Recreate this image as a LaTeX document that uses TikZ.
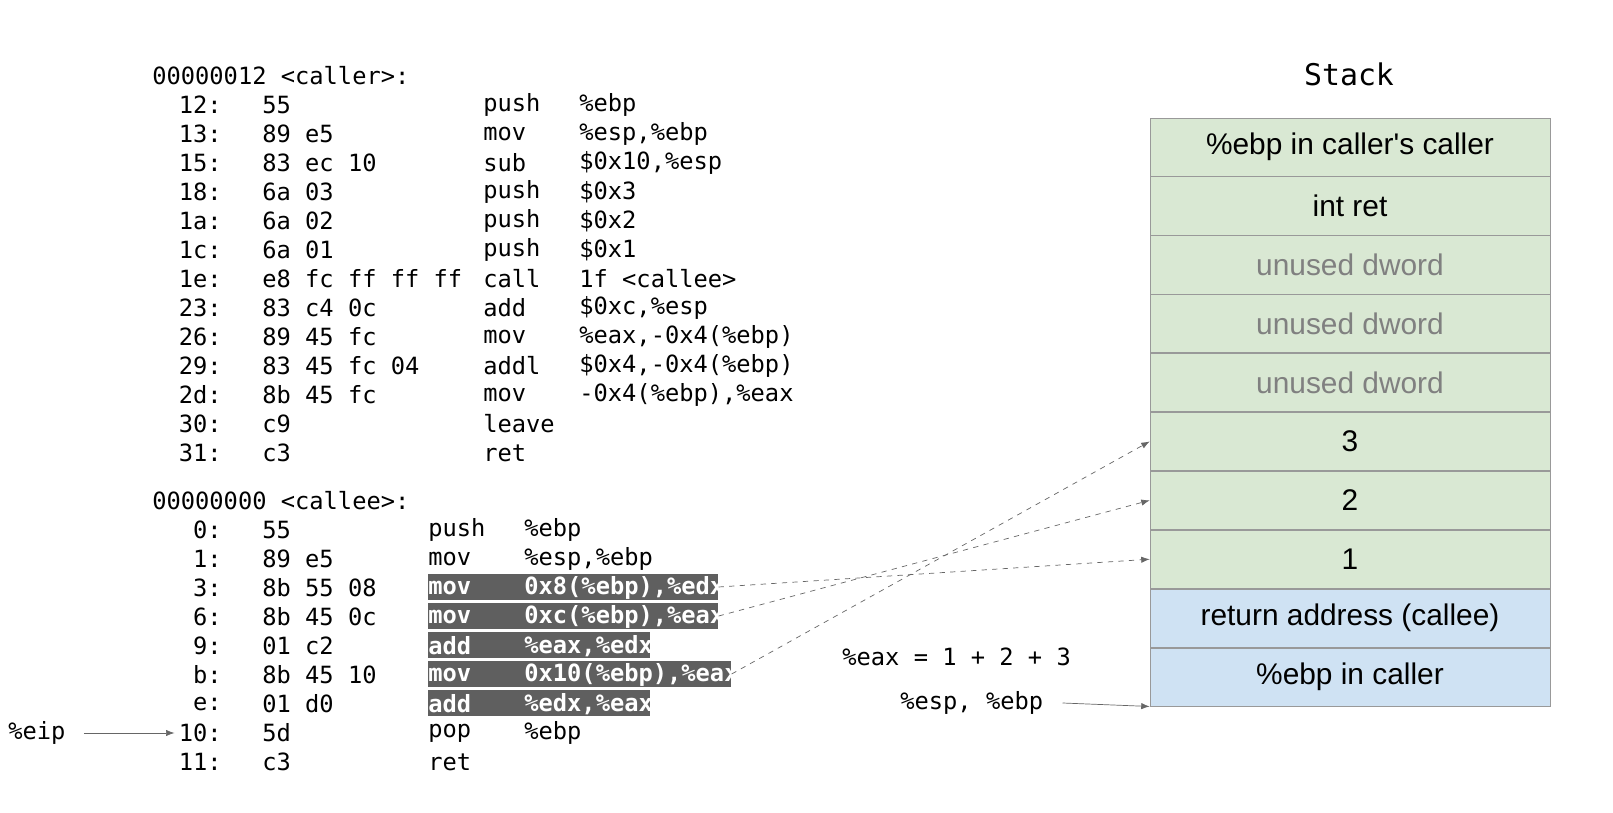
\documentclass[tikz,border=0pt]{standalone}
\usepackage{fontspec}
\setmainfont{Liberation Sans}
\setmonofont{DejaVu Sans Mono}
\usetikzlibrary{arrows.meta,
                positioning}
\definecolor{stackgreen}{HTML}{D9E8D3}
\definecolor{stackblue}{HTML}{CFE2F3}
\definecolor{hlgray}{HTML}{5F5F5F}
\definecolor{linegray}{HTML}{666666}

\begin{document}
\begin{tikzpicture}[x=0.02cm, y=-0.02cm]
    \tikzset
    {
        code/.style = {font = \ttfamily\fontsize{13.5}{15}\selectfont,
                       inner sep = 0pt,
                       anchor = west},
        addr/.style = {code,
                       anchor = east},
        hl/.style = {fill = hlgray,
                     inner sep = 0pt,
                     minimum height = 0.52cm,
                     anchor = west},
        hltext/.style = {code,
                         text = white,
                         font = \ttfamily\bfseries\fontsize{13.5}{15}\selectfont},
        cell/.style = {draw = gray!80,
                       minimum width = 8cm,
                       minimum height = 1.164cm,
                       inner sep = 0pt,
                       font = \fontsize{17}{20}\selectfont},
        used/.style = {cell, fill = stackgreen},
        unused/.style = {cell, fill = stackgreen, text = gray},
        frame/.style = {cell, fill = stackblue},
        dashedarrow/.style = {draw = linegray, dashed, -Latex},
        solidarrow/.style = {draw = linegray, -Latex}
    };
    \useasboundingbox (0,0) rectangle (1613,813);

    % caller
    \node[code] (caller) at (152,76) {00000012 <caller>:};
    \foreach \ad/\by/\mn/\op [count=\n] in
        {12:/55/push/\%ebp,
         13:/89 e5/mov/{\%esp,\%ebp},
         15:/83 ec 10/sub/{\$0x10,\%esp},
         18:/6a 03/push/\$0x3,
         1a:/6a 02/push/\$0x2,
         1c:/6a 01/push/\$0x1,
         1e:/e8 fc ff ff ff/call/1f <callee>,
         23:/83 c4 0c/add/{\$0xc,\%esp},
         26:/89 45 fc/mov/{\%eax,-0x4(\%ebp)},
         29:/83 45 fc 04/addl/{\$0x4,-0x4(\%ebp)},
         2d:/8b 45 fc/mov/{-0x4(\%ebp),\%eax},
         30:/c9/leave/{},
         31:/c3/ret/{}}
    {
        \node[addr] (ca-\n) at (222,76+29*\n) {\ad};
        \node[code] (cb-\n) at (262,76+29*\n) {\by};
        \node[code] (cm-\n) at (483,76+29*\n) {\mn};
        \node[code] (co-\n) at (579,76+29*\n) {\op};
    }

    % callee, highlighted rows first
    \node[hl, minimum width = 5.8cm] (h3) at (428,587) {};
    \node[hl, minimum width = 5.8cm] (h6) at (428,616) {};
    \node[hl, minimum width = 4.44cm] (h9) at (428,645) {};
    \node[hl, minimum width = 6.06cm] (hb) at (428,674) {};
    \node[hl, minimum width = 4.44cm] (he) at (428,703) {};

    \node[code] (callee) at (152,501) {00000000 <callee>:};
    \foreach \ad/\by/\mn/\op/\st [count=\n] in
        {0:/55/push/\%ebp/code,
         1:/89 e5/mov/{\%esp,\%ebp}/code,
         3:/8b 55 08/mov/{0x8(\%ebp),\%edx}/hltext,
         6:/8b 45 0c/mov/{0xc(\%ebp),\%eax}/hltext,
         9:/01 c2/add/{\%eax,\%edx}/hltext,
         b:/8b 45 10/mov/{0x10(\%ebp),\%eax}/hltext,
         e:/01 d0/add/{\%edx,\%eax}/hltext,
         10:/5d/pop/\%ebp/code,
         11:/c3/ret/{}/code}
    {
        \node[addr] (ea-\n) at (222,501+29*\n) {\ad};
        \node[code] (eb-\n) at (262,501+29*\n) {\by};
        \node[\st] (em-\n) at (428,501+29*\n) {\mn};
        \node[\st] (eo-\n) at (524,501+29*\n) {\op};
    }

    % stack
    \node[code, anchor = center, font = \ttfamily\fontsize{17}{20}\selectfont] (title) at (1349,74) {Stack};
    \node[used] (s-top) at (1350,147) {\%ebp in caller\textquotesingle s caller};
    \node[used, below = 0pt of s-top] (s-ret) {int ret};
    \node[unused, below = 0pt of s-ret] (s-u1) {unused dword};
    \node[unused, below = 0pt of s-u1] (s-u2) {unused dword};
    \node[unused, below = 0pt of s-u2] (s-u3) {unused dword};
    \node[used, below = 0pt of s-u3] (s-3) {3};
    \node[used, below = 0pt of s-3] (s-2) {2};
    \node[used, below = 0pt of s-2] (s-1) {1};
    \node[frame, below = 0pt of s-1] (s-ra) {return address (callee)};
    \node[frame, below = 0pt of s-ra] (s-ebp) {\%ebp in caller};

    % labels
    \node[code] (eax) at (842,657) {\%eax = 1 + 2 + 3};
    \node[code] (esp) at (900,703) {\%esp, \%ebp};
    \node[code] (eip) at (8,733) {\%eip};

    % arrows
    \draw[dashedarrow] (h3.east) -- (s-1.west);
    \draw[dashedarrow] (h6.east) -- (s-2.west);
    \draw[dashedarrow] (hb.east) -- (s-3.west);
    \draw[solidarrow] ([xshift=0.38cm] esp.east) -- (s-ebp.south west);
    \draw[solidarrow] ([xshift=0.36cm] eip.east) -- ([xshift=-0.08cm] ea-8.west);
\end{tikzpicture}
\end{document}
